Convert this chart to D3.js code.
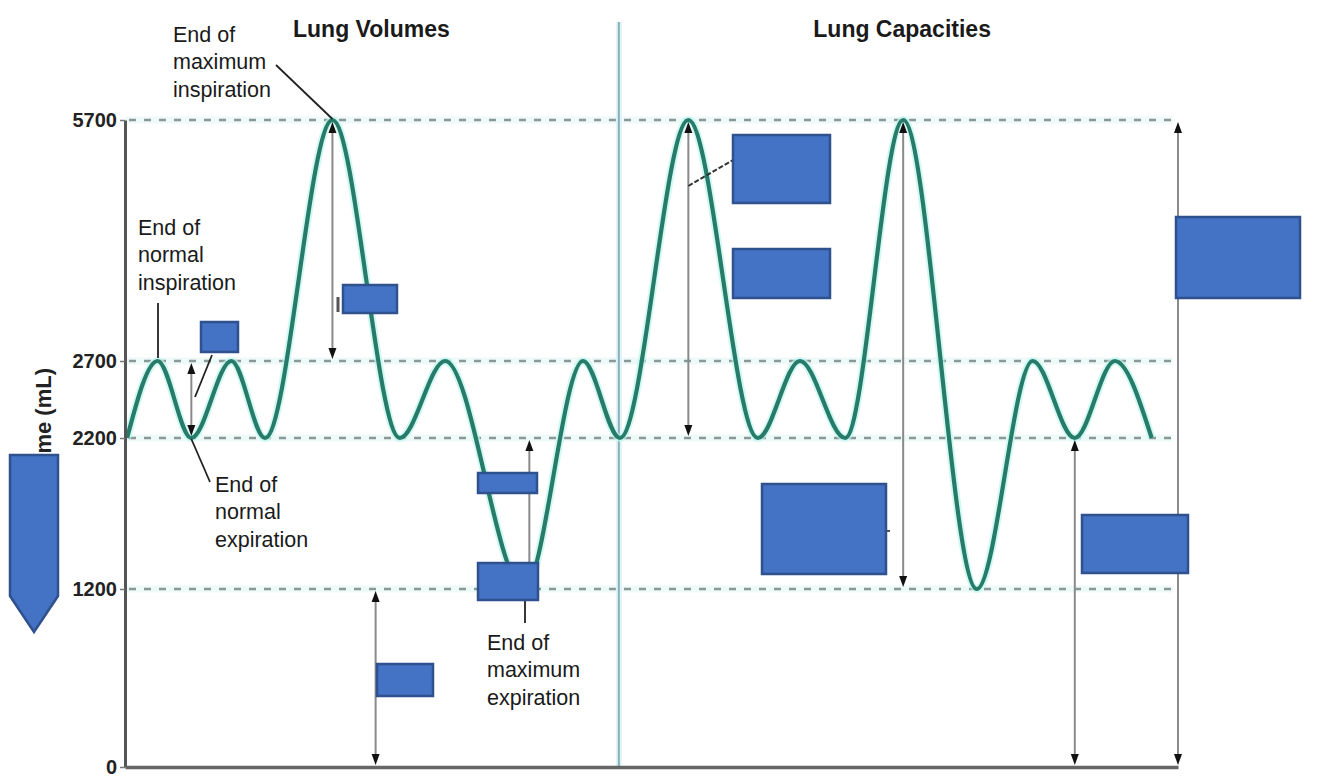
<!DOCTYPE html>
<html><head><meta charset="utf-8">
<script src="https://cdn.jsdelivr.net/npm/d3@7"></script>
<style>
body{margin:0;background:#fff;}
svg{display:block;font-family:"Liberation Sans",Arial,Helvetica,sans-serif;}
</style>
</head><body>
<svg id="chart" width="1334" height="778"></svg>
<script>
// ---- data (time in arbitrary units, volume in mL) ----
const times   = [0.2, 3.1, 6.3, 10.1, 13.3, 19.7, 26.1, 30.4, 37.9, 43.5, 47.0, 53.5, 60.1, 64.1, 68.4, 73.9, 80.9, 86.2, 90.2, 94.0, 97.5];
const volumes = [2200, 2700, 2200, 2700, 2200, 5700, 2200, 2700, 1200, 2700, 2200, 5700, 2200, 2700, 2200, 5700, 1200, 2700, 2200, 2700, 2200];
const yTickValues = [0, 1200, 2200, 2700, 5700];
const yTickLabels = ["0", "1200", "2200", "2700", "5700"];
const levelLines  = [5700, 2700, 2200, 1200];
const arrowTimes  = [6.3, 19.7, 23.8, 38.4, 53.5, 73.9, 90.2, 100];
const arrowFrom   = [2200, 2700, 0, 1200, 2200, 1200, 0, 0];
const arrowTo     = [2700, 5700, 1200, 2200, 5700, 5700, 2200, 5700];
const sectionTitles  = ["Lung Volumes", "Lung Capacities"];
const sectionCenters = [23.4, 73.8];
const dividerTime = 46.9;
const yAxisLabel = "Volume (mL)";
const noteLines = [
  ["End of", "maximum", "inspiration"],
  ["End of", "normal", "inspiration"],
  ["End of", "normal", "expiration"],
  ["End of", "maximum", "expiration"]
];

// ---- layout ----
const svg = d3.select("#chart");
const x = d3.scaleLinear().domain([0, 100]).range([125, 1178]);
const y = d3.scaleLinear().domain([0, 1200, 2200, 2700, 5700]).range([767, 589, 438, 361, 120]);

const notePos = [[173, 42], [138, 235], [215, 492], [487, 650]];
const lineGap = 27.3;
const boxes = [
  [201, 322, 37, 30],
  [343, 285, 54, 28],
  [478, 473, 59, 20],
  [478, 563, 60, 37],
  [377, 664, 56, 32],
  [733, 135, 97, 68],
  [733, 249, 97, 49],
  [1176, 217, 124, 81],
  [762, 484, 124, 90],
  [1082, 515, 106, 58]
];

// level dashed lines
const lv = svg.append("g");
lv.selectAll("line.glow").data(levelLines).join("line")
  .attr("class", "glow")
  .attr("x1", x(0)).attr("x2", x(99.5))
  .attr("y1", d => y(d)).attr("y2", d => y(d))
  .attr("stroke", "#eefaf8").attr("stroke-width", 7);
lv.selectAll("line.dash").data(levelLines).join("line")
  .attr("class", "dash")
  .attr("x1", x(0) + 4).attr("x2", x(99.5))
  .attr("y1", d => y(d)).attr("y2", d => y(d))
  .attr("stroke", "#8a9896").attr("stroke-width", 2.6)
  .attr("stroke-dasharray", "7,8");

// divider
svg.append("line").attr("x1", x(dividerTime)).attr("x2", x(dividerTime))
  .attr("y1", 22).attr("y2", y(0))
  .attr("stroke", "#e2f3f6").attr("stroke-width", 6);
svg.append("line").attr("x1", x(dividerTime)).attr("x2", x(dividerTime))
  .attr("y1", 22).attr("y2", y(0))
  .attr("stroke", "#86b2c0").attr("stroke-width", 2);

// wave
const pts = times.map((t, i) => [t, volumes[i]]);
const line = d3.line().x(d => x(d[0])).y(d => y(d[1])).curve(d3.curveMonotoneX);
svg.append("path").attr("d", line(pts)).attr("fill", "none")
  .attr("stroke", "#bff5ef").attr("stroke-width", 8).attr("stroke-opacity", 0.7);
svg.append("path").attr("d", line(pts)).attr("fill", "none")
  .attr("stroke", "#267c69").attr("stroke-width", 4.2);

// arrows
const ag = svg.append("g");
arrowTimes.forEach((t, i) => {
  const cx = x(t), yb = y(arrowFrom[i]), yt = y(arrowTo[i]);
  ag.append("line").attr("x1", cx).attr("x2", cx).attr("y1", yt + 8).attr("y2", yb - 8)
    .attr("stroke", "#8a8a8a").attr("stroke-width", 2);
  ag.append("path").attr("d", `M${cx},${yt + 2} L${cx - 4},${yt + 13} L${cx + 4},${yt + 13} Z`).attr("fill", "#111");
  ag.append("path").attr("d", `M${cx},${yb - 2} L${cx - 4},${yb - 13} L${cx + 4},${yb - 13} Z`).attr("fill", "#111");
});

// axes
const yAxis = svg.append("g").attr("transform", `translate(${x(0)},0)`)
  .call(d3.axisLeft(y).tickValues(yTickValues).tickFormat((d, i) => yTickLabels[i]).tickSize(5).tickSizeOuter(0).tickPadding(3));
yAxis.select(".domain").attr("stroke", "#555").attr("stroke-width", 3);
yAxis.selectAll(".tick line").attr("stroke", "#777").attr("stroke-width", 1.5);
yAxis.selectAll(".tick text").attr("font-size", 20).attr("font-weight", "bold")
  .attr("fill", "#222").attr("font-family", '"Liberation Sans",Arial,sans-serif');

const xAxis = svg.append("g").attr("transform", `translate(0,${y(0)})`)
  .call(d3.axisBottom(x).tickValues([]).tickSizeOuter(0));
xAxis.select(".domain").attr("stroke", "#666").attr("stroke-width", 3.5);

// y label
svg.append("text").attr("transform", `translate(51,368) rotate(-90)`)
  .attr("text-anchor", "end").attr("font-size", 22).attr("font-weight", "bold")
  .attr("fill", "#222").text(yAxisLabel);

// titles
svg.selectAll("text.title").data(sectionTitles).join("text")
  .attr("class", "title")
  .attr("x", (d, i) => x(sectionCenters[i])).attr("y", 37)
  .attr("text-anchor", "middle").attr("font-size", 23).attr("font-weight", "bold")
  .attr("fill", "#1a1a1a").text(d => d);

// notes
noteLines.forEach((lines, i) => {
  const t = svg.append("text").attr("font-size", 21.5).attr("fill", "#1a1a1a");
  lines.forEach((s, j) => {
    t.append("tspan").attr("x", notePos[i][0]).attr("y", notePos[i][1] + j * lineGap).text(s);
  });
});

// leader lines
const leaders = [
  [276, 65, x(19.7), y(5700) - 1],
  [158, 303, 158, y(2700) - 3],
  [210, 482, x(6.3), y(2200) + 1],
  [525, 600, 525, 623],
  [212, 355, 195, 397]
];
svg.selectAll("line.leader").data(leaders).join("line")
  .attr("class", "leader")
  .attr("x1", d => d[0]).attr("y1", d => d[1]).attr("x2", d => d[2]).attr("y2", d => d[3])
  .attr("stroke", "#222").attr("stroke-width", 1.8);
svg.append("line").attr("x1", x(53.5)).attr("y1", 186).attr("x2", 733).attr("y2", 160)
  .attr("stroke", "#333").attr("stroke-width", 2).attr("stroke-dasharray", "5,2");
// remnant marks
svg.append("line").attr("x1", 338).attr("x2", 338).attr("y1", 297).attr("y2", 312)
  .attr("stroke", "#555").attr("stroke-width", 3);
svg.append("line").attr("x1", 886).attr("x2", 890).attr("y1", 531).attr("y2", 531)
  .attr("stroke", "#555").attr("stroke-width", 2);

// blue cover boxes
svg.selectAll("rect.box").data(boxes).join("rect")
  .attr("class", "box")
  .attr("x", d => d[0]).attr("y", d => d[1]).attr("width", d => d[2]).attr("height", d => d[3])
  .attr("fill", "#4472c4").attr("stroke", "#2f528f").attr("stroke-width", 2.5);
svg.append("path").attr("d", "M10,455 L58,455 L58,596 L34,632 L10,596 Z")
  .attr("fill", "#4472c4").attr("stroke", "#2f528f").attr("stroke-width", 2.5);
</script>
</body></html>
